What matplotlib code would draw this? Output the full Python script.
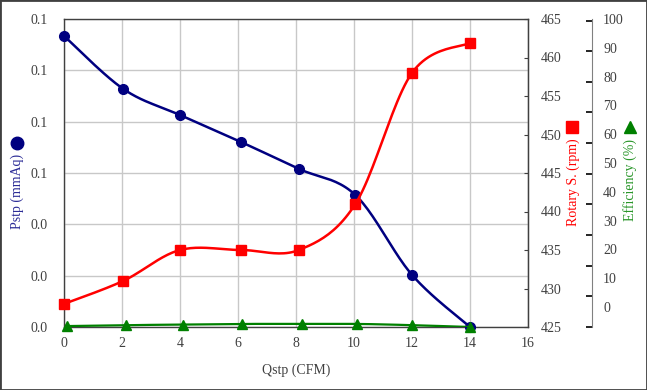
import numpy as np
import matplotlib
matplotlib.use("Agg")
import matplotlib.pyplot as plt
from matplotlib.lines import Line2D
from matplotlib.patches import Rectangle
from matplotlib.ticker import FuncFormatter

# data
qstp = [0.0, 2.05, 4.0, 6.1, 8.1, 10.05, 12.0, 14.0]
pstp = [0.1134, 0.0927, 0.0826, 0.0721, 0.0616, 0.0514, 0.0203, 0.0]
qstp_rpm = [0.0, 2.05, 4.0, 6.1, 8.1, 10.05, 12.0, 14.0]
rpm = [428.0, 431.0, 435.0, 435.0, 435.0, 441.0, 458.0, 461.9]
qstp_eff = [0.1, 2.15, 4.1, 6.15, 8.2, 10.1, 12.0, 14.0]
eff = [0.3, 0.6, 0.8, 1.0, 1.0, 1.0, 0.6, 0.0]

x_ticks = [0, 2, 4, 6, 8, 10, 12, 14, 16]
p_ticks = [0.0, 0.02, 0.04, 0.06, 0.08, 0.10, 0.12]
rpm_ticks = [425, 430, 435, 440, 445, 450, 455, 460, 465]
eff_labels = ["0", "10", "20", "30", "40", "50", "60", "70", "80", "90", "100"]

SERIF = ["Liberation Serif", "DejaVu Serif"]
plt.rcParams["font.family"] = SERIF
plt.rcParams["font.size"] = 10
TXT = "#404040"


def smooth(xs, ys, xlim, ylim, n=24):
    # excel-like smoothed line: catmull-rom in normalised space
    x = (np.asarray(xs) - xlim[0]) / (xlim[1] - xlim[0])
    y = (np.asarray(ys) - ylim[0]) / (ylim[1] - ylim[0])
    p = np.column_stack([x, y])
    p = np.vstack([p[0], p, p[-1]])
    out = []
    t = np.linspace(0, 1, n)[:, None]
    for i in range(1, len(p) - 2):
        p0, p1, p2, p3 = p[i - 1], p[i], p[i + 1], p[i + 2]
        c1 = p1 + (p2 - p0) / 6
        c2 = p2 - (p3 - p1) / 6
        seg = ((1 - t) ** 3) * p1 + 3 * ((1 - t) ** 2) * t * c1 + 3 * (1 - t) * t ** 2 * c2 + t ** 3 * p2
        out.append(seg)
    c = np.vstack(out)
    return (c[:, 0] * (xlim[1] - xlim[0]) + xlim[0],
            c[:, 1] * (ylim[1] - ylim[0]) + ylim[0])


fig = plt.figure(figsize=(6.47, 3.90), dpi=100)
ax = fig.add_axes([64 / 647, 63 / 390, 464 / 647, 308 / 390])
ax2 = ax.twinx()
ax3 = ax.twinx()

xlim = (0, 16)
plim = (0, 0.12)
rlim = (425, 465)
elim = (0, 100)

# left axis
ax.set_xlim(*xlim)
ax.set_ylim(*plim)
ax.set_xticks(x_ticks)
ax.set_yticks(p_ticks)
ax.yaxis.set_major_formatter(FuncFormatter(lambda v, pos: f"{v:.1f}"))
ax.grid(True, color="#c8c8c8", linewidth=1.0)
ax.set_axisbelow(True)
ax.tick_params(axis="both", length=0, colors=TXT, labelsize=10)
ax.tick_params(axis="y", pad=12)
ax.tick_params(axis="x", pad=7)
for s in ax.spines.values():
    s.set_color("#404040")
    s.set_linewidth(1.0)
ax.set_xlabel("Qstp (CFM)", color=TXT, fontsize=10, labelpad=10)

bx, by = smooth(qstp, pstp, xlim, plim)
ax.plot(bx, by, color="#000080", linewidth=1.8, zorder=3)
ax.plot(qstp, pstp, "o", color="#000080", markersize=7, zorder=4, clip_on=False)

# rpm axis
ax2.set_ylim(*rlim)
ax2.set_yticks(rpm_ticks)
ax2.tick_params(axis="y", direction="in", length=3, color="#404040", colors=TXT, labelsize=10, pad=9)
ax2.spines["right"].set_color("#404040")
rx, ry = smooth(qstp_rpm, rpm, xlim, rlim)
ax2.plot(rx, ry, color="#ff0000", linewidth=1.8, zorder=3)
ax2.plot(qstp_rpm, rpm, "s", color="#ff0000", markersize=7, zorder=4, clip_on=False)
for s in ["left", "top", "bottom"]:
    ax2.spines[s].set_visible(False)

# efficiency axis
ax3.set_ylim(*elim)
ax3.spines["right"].set_position(("axes", 1.138))
ax3.spines["right"].set_color("#808080")
for s in ["left", "top", "bottom"]:
    ax3.spines[s].set_visible(False)
ax3.set_yticks(np.arange(0, 101, 10))
ax3.set_yticklabels([])
ax3.tick_params(axis="y", which="major", direction="in", length=4, width=1.2, color="#000000")
ax3.set_yticks([6.5 + 9.4 * i for i in range(len(eff_labels))], minor=True)
ax3.set_yticklabels(eff_labels, minor=True)
ax3.tick_params(axis="y", which="minor", length=0, colors=TXT, labelsize=10, pad=8)
gx, gy = smooth(qstp_eff, eff, xlim, elim)
ax3.plot(gx, gy, color="#008000", linewidth=1.6, zorder=3)
ax3.plot(qstp_eff, eff, "^", color="#008000", markersize=7, zorder=4, clip_on=False)

# axis titles with their symbols
fig.text(17 / 647, 1 - 191 / 390, "Pstp (mmAq)", rotation=90, color="#2b2b96",
         ha="center", va="center", fontsize=10)
fig.add_artist(Line2D([17 / 647], [1 - 143 / 390], marker="o", markersize=9,
                      color="#000080", transform=fig.transFigure))
fig.text(573 / 647, 1 - 182 / 390, "Rotary S. (rpm)", rotation=90, color="#ff0000",
         ha="center", va="center", fontsize=10)
fig.add_artist(Line2D([572 / 647], [1 - 127 / 390], marker="s", markersize=8.5,
                      color="#ff0000", transform=fig.transFigure))
fig.text(630 / 647, 1 - 180 / 390, "Efficiency (%)", rotation=90, color="#2a962a",
         ha="center", va="center", fontsize=10)
fig.add_artist(Line2D([630 / 647], [1 - 127 / 390], marker="^", markersize=9,
                      color="#008000", transform=fig.transFigure))

# outer chart border
fig.add_artist(Rectangle((0, 0), 1, 1, transform=fig.transFigure, fill=False,
                         edgecolor="#404040", linewidth=2))

fig.savefig("out.png", dpi=100)
